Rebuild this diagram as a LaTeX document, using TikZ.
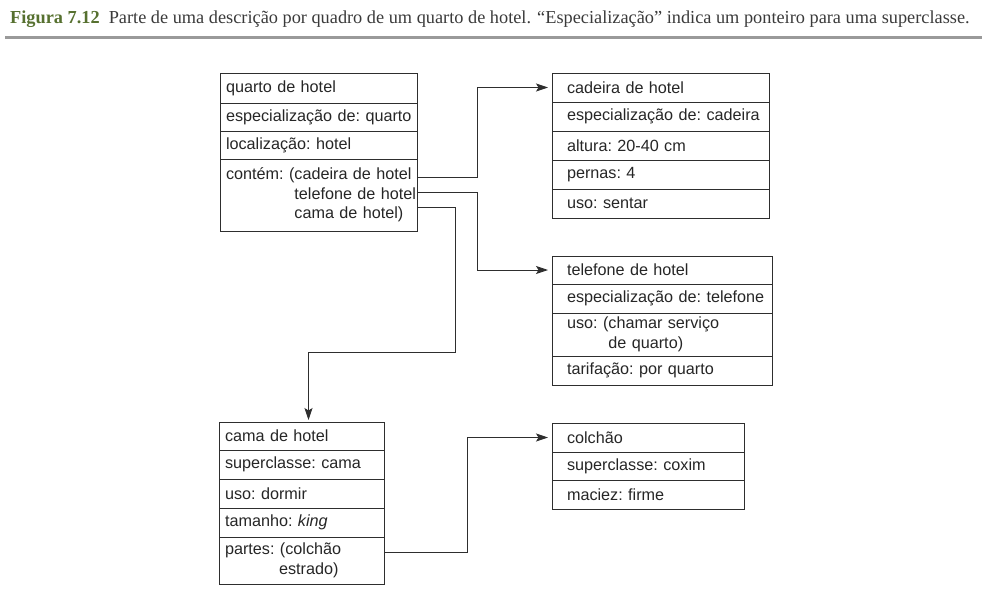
\documentclass[tikz,border=0pt]{standalone}
\usepackage{fontspec}
\setmainfont{Liberation Serif}
\newfontfamily\boxfamily{Liberation Sans}
\usepackage{xcolor}
\usetikzlibrary{arrows.meta,positioning}
\definecolor{figgreen}{HTML}{56702F}
\definecolor{captext}{HTML}{3A3A3A}
\definecolor{rulegray}{HTML}{9A9A9A}
\definecolor{ink}{HTML}{2E2E2E}
\newcommand{\boxfont}{\boxfamily\fontsize{16.2}{19.5}\selectfont\frenchspacing}

\begin{document}
\begin{tikzpicture}[
  x=1pt, y=1pt,
  row/.style={draw=ink, line width=0.9pt, outer sep=0pt, anchor=north west,
              font=\boxfont, align=left, inner xsep=0pt, inner ysep=0pt, text=black!85},
  lbox/.style={row, text width=#1, execute at begin node={\leftskip=6pt\relax}},
  rbox/.style={row, text width=#1, execute at begin node={\leftskip=15pt\relax}},
  arr/.style={draw=ink, line width=0.9pt, -{Stealth[length=12pt,width=8pt,inset=2.5pt]}}
]
\useasboundingbox (0,0) rectangle (987,-608);

\node[anchor=base west, inner sep=0pt, text=captext, font=\fontsize{18.3}{21}\selectfont] (cap) at (10,-23)
  {\textcolor{figgreen}{\bfseries Figura 7.12}\enspace Parte de uma descrição por quadro de um quarto de hotel. “Especialização” indica um ponteiro para uma superclasse.};
\draw[rulegray, line width=3pt] (5,-37) -- (982,-37);

% quarto de hotel
\node[lbox=197pt, minimum height=30pt] (qh) at (220,-73) {quarto de hotel};
\node[lbox=197pt, minimum height=28pt, below=0pt of qh] (qesp) {especialização de: quarto};
\node[lbox=197pt, minimum height=28pt, below=0pt of qesp] (qloc) {localização: hotel};
\node[lbox=197pt, minimum height=72pt, below=0pt of qloc] (qcon)
  {contém: (cadeira de hotel\\\phantom{contém: (}telefone de hotel\\\phantom{contém: (}cama de hotel)};

% cadeira de hotel
\node[rbox=217pt, minimum height=29pt] (cad) at (552,-73) {cadeira de hotel};
\node[rbox=217pt, minimum height=29pt, below=0pt of cad] (cesp) {especialização de: cadeira};
\node[rbox=217pt, minimum height=29pt, below=0pt of cesp] (calt) {altura: 20-40 cm};
\node[rbox=217pt, minimum height=29pt, below=0pt of calt] (cper) {pernas: 4};
\node[rbox=217pt, minimum height=29pt, below=0pt of cper] (cuso) {uso: sentar};

% telefone de hotel
\node[rbox=220pt, minimum height=28pt] (tel) at (552,-256) {telefone de hotel};
\node[rbox=220pt, minimum height=29pt, below=0pt of tel] (tesp) {especialização de: telefone};
\node[rbox=220pt, minimum height=43pt, below=0pt of tesp] (tuso)
  {uso: (chamar serviço\\\phantom{uso: (}de quarto)};
\node[rbox=220pt, minimum height=29pt, below=0pt of tuso] (ttar) {tarifação: por quarto};

% cama de hotel
\node[lbox=165pt, minimum height=28pt] (cama) at (219,-422) {cama de hotel};
\node[lbox=165pt, minimum height=29pt, below=0pt of cama] (msup) {superclasse: cama};
\node[lbox=165pt, minimum height=29pt, below=0pt of msup] (muso) {uso: dormir};
\node[lbox=165pt, minimum height=29pt, below=0pt of muso] (mtam) {tamanho: \textit{king}};
\node[lbox=165pt, minimum height=47pt, below=0pt of mtam] (mpar)
  {partes: (colchão\\\hspace*{54pt}estrado)};

% colchão
\node[rbox=192pt, minimum height=29pt] (col) at (552,-423) {colchão};
\node[rbox=192pt, minimum height=28pt, below=0pt of col] (lsup) {superclasse: coxim};
\node[rbox=192pt, minimum height=29pt, below=0pt of lsup] (lmac) {maciez: firme};

\draw[arr, shorten >=4pt] ([yshift=18pt]qcon.east) -- ++(60,0) |- (cad.west);
\draw[arr, shorten >=4pt] ([yshift=3pt]qcon.east) -- ++(60,0) |- (tel.west);
\draw[arr, shorten >=2pt] ([yshift=-12pt]qcon.east) -- ++(38,0) -- ++(0,-145) -| ([xshift=7pt]cama.north);
\draw[arr, shorten >=4pt] ([yshift=8.5pt]mpar.east) -- ++(83,0) |- (col.west);
\end{tikzpicture}
\end{document}
